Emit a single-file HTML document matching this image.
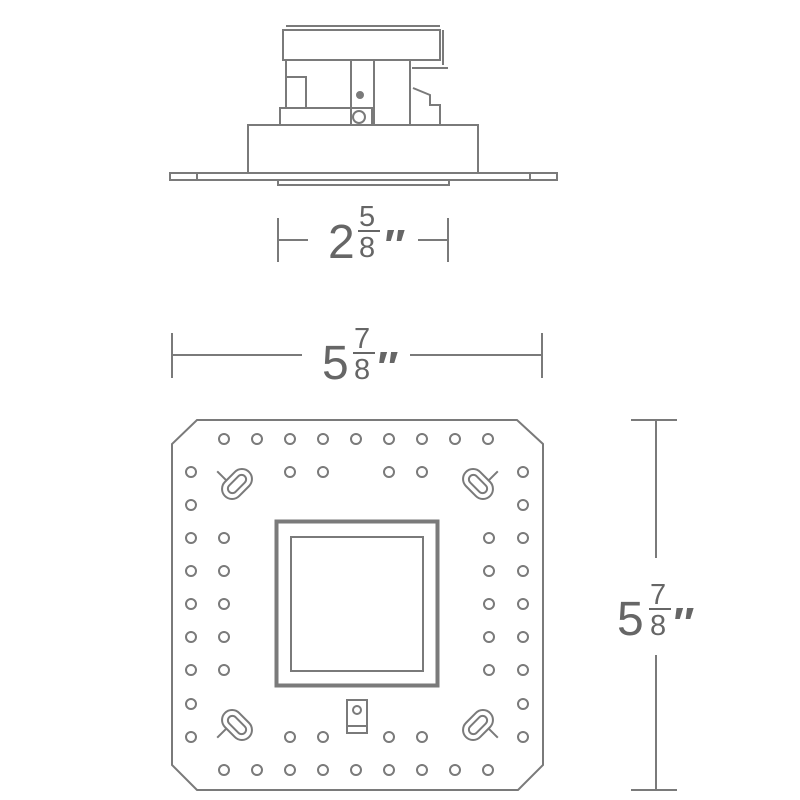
<!DOCTYPE html>
<html><head><style>html,body{margin:0;padding:0;background:#fff}svg{display:block}</style></head>
<body>
<svg width="800" height="800" viewBox="0 0 800 800" xmlns="http://www.w3.org/2000/svg" font-family="Liberation Sans, sans-serif" fill="none" stroke="#7a7a7a" stroke-width="2">
<!-- top side view -->
<rect x="170" y="173" width="387" height="7"/>
<line x1="197" y1="173" x2="197" y2="180"/><line x1="530" y1="173" x2="530" y2="180"/>
<rect x="278" y="180" width="171" height="5"/>
<rect x="248" y="125" width="230" height="48"/>
<rect x="280" y="108" width="92" height="17"/>
<circle cx="359" cy="117" r="6"/>
<rect x="283" y="30" width="157" height="30"/>
<line x1="286" y1="26" x2="440" y2="26"/>
<line x1="443" y1="30" x2="443" y2="65"/>
<path d="M286 60 V108 M287 77 H306 V108 M351 60 V125 M374 60 V125 M410 60 V125 M412 68 H448 M413 88 L430 95 V105 L440 105 V125"/>
<circle cx="360" cy="95" r="3" fill="#7a7a7a"/>
<!-- 2 5/8 dimension -->
<path d="M278 218 V262 M278 240 H308 M418 240 H448 M448 218 V262"/>
<g fill="#666" stroke="none">
<text x="328" y="258" font-size="48">2</text>
<text x="359" y="226" font-size="29">5</text>
<rect x="358" y="230" width="22" height="2"/>
<text x="359" y="257" font-size="29">8</text>
<text x="382" y="260" font-size="44" font-style="italic" font-weight="bold">″</text>
</g>
<!-- 5 7/8 horizontal -->
<path d="M172 333 V378 M172 355 H302 M410 355 H542 M542 333 V378"/>
<g fill="#666" stroke="none">
<text x="322" y="379" font-size="48">5</text>
<text x="354" y="348" font-size="29">7</text>
<rect x="353" y="352" width="22" height="2"/>
<text x="354" y="379" font-size="29">8</text>
<text x="375" y="382" font-size="44" font-style="italic" font-weight="bold">″</text>
</g>
<!-- vertical dimension -->
<path d="M631 420 H677 M656 420 V558 M656 655 V790 M631 790 H677"/>
<g fill="#666" stroke="none">
<text x="617" y="635" font-size="48">5</text>
<text x="650" y="604" font-size="29">7</text>
<rect x="649" y="608" width="22" height="2"/>
<text x="650" y="635" font-size="29">8</text>
<text x="671" y="638" font-size="44" font-style="italic" font-weight="bold">″</text>
</g>
<!-- plate -->
<path d="M197 420 H517 L543 444 V765 L518 790 H197 L172 765 V444 Z"/>
<rect x="276.5" y="521.5" width="161" height="164" stroke-width="4"/>
<rect x="291" y="537" width="132" height="134"/>
<rect x="347" y="700" width="20" height="33"/>
<circle cx="357" cy="710" r="4"/>
<line x1="347" y1="726" x2="367" y2="726"/>
<!-- slots -->
<g transform="translate(237,484) rotate(-45)"><rect x="-17" y="-10" width="34" height="20" rx="10"/><rect x="-11" y="-4.5" width="22" height="9" rx="4.5"/><path d="M-5 -10 V-23"/></g>
<g transform="translate(478,484) rotate(45)"><rect x="-17" y="-10" width="34" height="20" rx="10"/><rect x="-11" y="-4.5" width="22" height="9" rx="4.5"/><path d="M5 -10 V-23"/></g>
<g transform="translate(237,725) rotate(45)"><rect x="-17" y="-10" width="34" height="20" rx="10"/><rect x="-11" y="-4.5" width="22" height="9" rx="4.5"/><path d="M-5 10 V23"/></g>
<g transform="translate(478,725) rotate(-45)"><rect x="-17" y="-10" width="34" height="20" rx="10"/><rect x="-11" y="-4.5" width="22" height="9" rx="4.5"/><path d="M5 10 V23"/></g>
<!-- dots -->
<g stroke-width="2">
<circle cx="224" cy="439" r="5"/><circle cx="257" cy="439" r="5"/><circle cx="290" cy="439" r="5"/><circle cx="323" cy="439" r="5"/><circle cx="356" cy="439" r="5"/><circle cx="389" cy="439" r="5"/><circle cx="422" cy="439" r="5"/><circle cx="455" cy="439" r="5"/><circle cx="488" cy="439" r="5"/>
<circle cx="224" cy="770" r="5"/><circle cx="257" cy="770" r="5"/><circle cx="290" cy="770" r="5"/><circle cx="323" cy="770" r="5"/><circle cx="356" cy="770" r="5"/><circle cx="389" cy="770" r="5"/><circle cx="422" cy="770" r="5"/><circle cx="455" cy="770" r="5"/><circle cx="488" cy="770" r="5"/>
<circle cx="290" cy="472" r="5"/><circle cx="323" cy="472" r="5"/><circle cx="389" cy="472" r="5"/><circle cx="422" cy="472" r="5"/>
<circle cx="290" cy="737" r="5"/><circle cx="323" cy="737" r="5"/><circle cx="389" cy="737" r="5"/><circle cx="422" cy="737" r="5"/>
<circle cx="191" cy="472" r="5"/><circle cx="191" cy="505" r="5"/><circle cx="191" cy="538" r="5"/><circle cx="191" cy="571" r="5"/><circle cx="191" cy="604" r="5"/><circle cx="191" cy="637" r="5"/><circle cx="191" cy="670" r="5"/><circle cx="191" cy="704" r="5"/><circle cx="191" cy="737" r="5"/>
<circle cx="523" cy="472" r="5"/><circle cx="523" cy="505" r="5"/><circle cx="523" cy="538" r="5"/><circle cx="523" cy="571" r="5"/><circle cx="523" cy="604" r="5"/><circle cx="523" cy="637" r="5"/><circle cx="523" cy="670" r="5"/><circle cx="523" cy="704" r="5"/><circle cx="523" cy="737" r="5"/>
<circle cx="224" cy="538" r="5"/><circle cx="224" cy="571" r="5"/><circle cx="224" cy="604" r="5"/><circle cx="224" cy="637" r="5"/><circle cx="224" cy="670" r="5"/>
<circle cx="489" cy="538" r="5"/><circle cx="489" cy="571" r="5"/><circle cx="489" cy="604" r="5"/><circle cx="489" cy="637" r="5"/><circle cx="489" cy="670" r="5"/>
</g>
</svg>
</body></html>
